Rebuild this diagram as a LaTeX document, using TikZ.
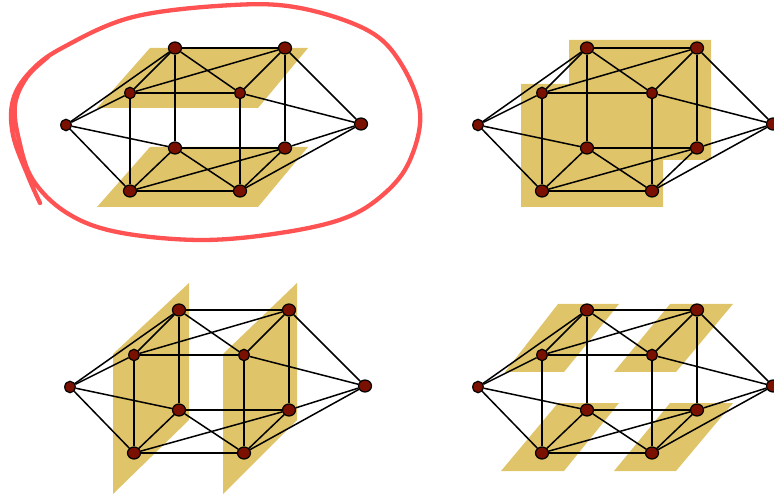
\documentclass[tikz,border=0pt]{standalone}
\usetikzlibrary{shapes.geometric}
\definecolor{planeY}{HTML}{E0C469}
\definecolor{nodeR}{HTML}{7A1000}
\definecolor{markR}{HTML}{FF5353}
\tikzset{
  vtx/.style={ellipse, draw=black, line width=1.2pt, fill=nodeR, inner sep=0pt,
              minimum width=13pt, minimum height=12pt},
  vsm/.style={vtx, minimum width=10.5pt, minimum height=11.5pt},
  edge/.style={draw=black, line width=1.5pt},
  plane/.style={fill=planeY, draw=none},
  redloop/.style={draw=markR, line width=4.3pt, line cap=round, line join=round},
}
\newcommand\cubegraph[3]{%
  \begin{scope}[shift={(#2,#3)}]
    \node[vsm] (#1L)   at (66,125) {};
    \node[vtx] (#1R)   at (361,124) {};
    \node[vtx] (#1BTa) at (175,48) {};
    \node[vtx] (#1BTb) at (285,48) {};
    \node[vsm] (#1FTa) at (130,93) {};
    \node[vsm] (#1FTb) at (240,93) {};
    \node[vtx] (#1BBa) at (175,148) {};
    \node[vtx] (#1BBb) at (285,148) {};
    \node[vtx] (#1FBa) at (130,191) {};
    \node[vtx] (#1FBb) at (240,191) {};
  \end{scope}
  \foreach \u/\v in {L/BTa, L/FTa, L/BBa, L/FBa,
                     R/BTb, R/FTb, R/BBb, R/FBb,
                     BTa/BTb, FTa/FTb, BBa/BBb, FBa/FBb,
                     FTa/FBa, BTa/BBa, FTb/FBb, BTb/BBb,
                     FTa/BTa, FTb/BTb, FBa/BBa, FBb/BBb,
                     FTa/BTb, BTa/FTb, FBa/BBb, BBa/FBb}
    {\draw[edge] (#1\u) -- (#1\v);}
}
\begin{document}
\begin{tikzpicture}[x=1pt,y=-1pt]
  \useasboundingbox (0,0) rectangle (774,494);
  % planes, top-left
  \fill[plane] (150,48) -- (308,48) -- (258,108) -- (97,108) -- cycle;
  \fill[plane] (150,147) -- (308,147) -- (258,207) -- (97,207) -- cycle;
  % planes, top-right
  \fill[plane] (569,40) -- (711,40) -- (711,160) -- (663,160) -- (663,207)
               -- (521,207) -- (521,84) -- (569,84) -- cycle;
  % planes, bottom-left
  \fill[plane] (113,354) -- (189,283) -- (189,420) -- (113,494) -- cycle;
  \fill[plane] (223,354) -- (297,283) -- (297,420) -- (223,494) -- cycle;
  % planes, bottom-right
  \fill[plane] (558,304) -- (619,304) -- (564,372) -- (505,372) -- cycle;
  \fill[plane] (670,304) -- (733,304) -- (676,372) -- (614,372) -- cycle;
  \fill[plane] (558,403) -- (619,403) -- (564,471) -- (501,471) -- cycle;
  \fill[plane] (670,403) -- (733,403) -- (676,471) -- (614,471) -- cycle;
  % graphs
  \cubegraph{a}{0}{0}
  \cubegraph{b}{412}{0}
  \cubegraph{c}{4}{262}
  \cubegraph{d}{412}{262}
  % hand-drawn red loop
  \draw[redloop] plot[smooth, tension=0.6] coordinates {
    (40,203) (28,176) (13,135) (13,100) (30,72) (62,48) (133,17) (233,5)
    (300,8) (367,30) (400,62) (420,112) (410,160) (385,193) (345,218)
    (280,233) (200,240) (117,232) (67,213) (33,180) (19,140) (15,105)
    (27,77) (48,57)};
\end{tikzpicture}
\end{document}
